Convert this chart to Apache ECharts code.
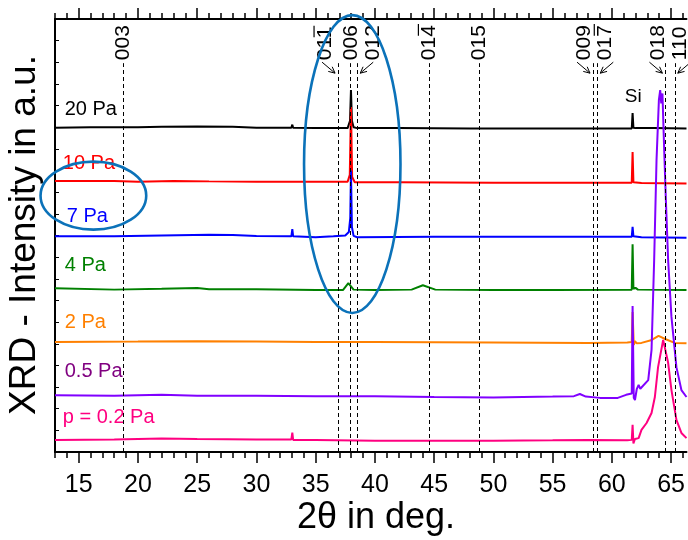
<!DOCTYPE html>
<html>
<head>
<meta charset="utf-8">
<script src="https://cdn.jsdelivr.net/npm/echarts@6/dist/echarts.min.js"></script>
<style>
  html, body { margin: 0; padding: 0; background: #fff; }
  #chart { width: 688px; height: 540px; }
</style>
</head>
<body>
<div id="chart"></div>
<script>
const FONT = '"Liberation Sans", Arial, Helvetica, sans-serif'

// XRD scans: [2theta (deg), intensity (a.u., stacked offset included)]
const scan20Pa = [
  [13, 74.9], [16, 75.0], [20, 75.0], [22, 75.1], [25, 75.2], [28, 75.1], [30, 74.9],
  [32.95, 74.9], [33.03, 75.6], [33.1, 74.9], [35, 74.8], [37.7, 74.8], [37.9, 76.5],
  [37.98, 83.6], [38.06, 76.5], [38.2, 75.0], [38.5, 74.8], [42, 74.8], [48, 74.7],
  [55, 74.7], [61.68, 74.7], [61.75, 78.3], [61.82, 74.9], [62, 74.8], [63.5, 74.8], [66.3, 74.7]
]
const scan10Pa = [
  [13, 62.6], [18, 62.6], [20, 62.4], [23, 62.6], [26, 62.5], [30, 62.4], [35, 62.4],
  [37.7, 62.4], [37.88, 64.0], [37.98, 79.7], [38.08, 63.5], [38.3, 62.3], [42, 62.3],
  [50, 62.2], [55, 62.2], [61.68, 62.2], [61.75, 69.3], [61.82, 62.3], [62.5, 62.1], [66.3, 62.0]
]
const scan7Pa = [
  [13, 49.8], [18, 49.8], [22, 50.0], [26, 50.2], [28, 50.1], [30, 49.9], [32.95, 49.8],
  [33.03, 51.5], [33.1, 49.8], [35, 49.6], [36.5, 49.8], [37.5, 50.0], [37.8, 50.8],
  [37.92, 54.0], [37.98, 65.0], [38.06, 52.0], [38.2, 49.9], [38.5, 49.6], [45, 49.7],
  [55, 49.7], [61.68, 49.7], [61.75, 52.0], [61.82, 49.8], [62.5, 49.6], [66.3, 49.5]
]
const scan4Pa = [
  [13, 37.8], [18, 37.5], [22, 37.7], [25, 37.9], [26, 37.6], [30, 37.6], [35, 37.4],
  [37.3, 37.4], [37.76, 39.0], [38.2, 37.5], [40, 37.4], [43.1, 37.5], [44.05, 38.5],
  [45.1, 37.5], [50, 37.4], [55, 37.4], [61.68, 37.5], [61.75, 48.0], [61.82, 37.7],
  [62, 37.9], [62.2, 37.5], [66.3, 37.4]
]
const scan2Pa = [
  [13, 25.4], [20, 25.5], [25, 25.6], [30, 25.5], [35, 25.4], [40, 25.4], [50, 25.3],
  [58, 25.2], [61.3, 25.3], [61.68, 25.4], [61.75, 32.3], [61.85, 24.7], [61.95, 25.6],
  [62.1, 25.1], [62.5, 25.2], [63.3, 25.8], [63.94, 26.8], [64.5, 26.1], [65.3, 25.2], [66.3, 25.1]
]
const scan05Pa = [
  [13, 13.1], [18, 13.0], [22, 13.2], [25, 13.0], [30, 13.0], [35, 12.9], [40, 12.9],
  [45, 12.7], [50, 12.6], [55, 12.8], [56.8, 12.9], [57.3, 13.4], [57.8, 12.8], [59, 12.5],
  [60.5, 12.5], [61.2, 13.2], [61.68, 13.5], [61.75, 33.7], [61.85, 12.5], [61.95, 12.0],
  [62.1, 14.5], [62.26, 15.5], [62.4, 14.6], [62.5, 14.8], [63.07, 16.6], [63.35, 23.6],
  [63.57, 44.3], [63.77, 67.4], [63.97, 81.3], [64.08, 83.6], [64.17, 80.5], [64.27, 82.8],
  [64.41, 70.4], [64.56, 58.2], [64.75, 44.3], [65.03, 31.2], [65.45, 19.6], [65.87, 14.3], [66.3, 12.7]
]
const scan02Pa = [
  [13, 2.8], [18, 2.9], [22, 3.1], [25, 3.0], [30, 2.9], [32.95, 2.9], [33.03, 4.5],
  [33.1, 2.8], [35, 2.8], [40, 2.6], [45, 2.6], [50, 2.6], [55, 2.7], [58, 2.8], [61.3, 2.7],
  [61.68, 2.8], [61.75, 6.3], [61.82, 2.0], [61.95, 3.0], [62.26, 3.2], [62.5, 5.1],
  [62.93, 6.7], [63.35, 9.0], [63.63, 12.7], [63.9, 19.6], [64.33, 25.9], [64.75, 20.6],
  [65.03, 14.3], [65.45, 7.4], [65.87, 4.4], [66.3, 3.2]
]

const scans = [scan20Pa, scan10Pa, scan7Pa, scan4Pa, scan2Pa, scan05Pa, scan02Pa]
const sampleNames = ['20 Pa', '10 Pa', '7 Pa', '4 Pa', '2 Pa', '0.5 Pa', 'p = 0.2 Pa']
const lineColors = ['#000000', '#ff0000', '#0000ff', '#008000', '#ff8000', '#8000ff', '#ff0080']
const nameColors = ['#000000', '#ff0000', '#0000ff', '#008000', '#ff8000', '#800080', '#ff0080']

// reference reflections (2theta) and their hkl; barred = last index negative
const refPeaks = [18.73, 36.89, 37.96, 38.51, 44.6, 48.8, 58.41, 58.77, 64.52, 65.31]
const refHkl = ['003', '011', '006', '012', '014', '015', '009', '017', '018', '110']
const refBarred = [false, true, false, false, true, false, false, true, false, false]
const refTop = 89.8

const xMajorTicks = [15, 20, 25, 30, 35, 40, 45, 50, 55, 60, 65]
const xMinorTicks = []
for (let t = 13; t <= 66; t++) xMinorTicks.push(t)

// layout of annotations (label anchors in data units, px offsets for hkl labels)
const nameAnchors = [[13.82, 79.2], [13.66, 66.7], [14.0, 54.5], [13.82, 43.0], [13.82, 30.0], [13.82, 18.5], [13.66, 7.9]]
const hklShift = [0, -13, 0, 16, 0, 0, -9, 8, -7, 5]
const hklBaseY = 90.5
const siAnchor = [61.8, 82.0]
const ellipses = [
  { c: [16.24, 59.2], rx: 4.46, ry: 7.85 },
  { c: [38.09, 66.5], rx: 4.07, ry: 34.4 },
]

const axisLine = { show: true, onZero: false, lineStyle: { color: '#000', width: 2 } }
const tickStyle = { color: '#000', width: 1.5 }

const makeX = (position, ticks, len, withLabels, showLine) => ({
  type: 'value',
  position,
  min: 13,
  max: 66.3,
  axisLine: showLine ? axisLine : { show: false },
  axisTick: { show: true, inside: false, length: len, customValues: ticks, lineStyle: tickStyle },
  axisLabel: withLabels
    ? { show: true, customValues: ticks, margin: 21, fontSize: 25, color: '#000', fontFamily: FONT }
    : { show: false },
  splitLine: { show: false },
})

const chart = echarts.init(document.getElementById('chart'))

const option = {
  animation: false,
  backgroundColor: '#fff',
  grid: { left: 55, right: 0, top: 19, bottom: 88 },
  xAxis: [
    makeX('bottom', xMajorTicks, 11, true, true),
    makeX('bottom', xMinorTicks, 6, false, false),
    makeX('top', xMajorTicks, 11, false, true),
    makeX('top', xMinorTicks, 6, false, false),
  ],
  yAxis: {
    type: 'value',
    min: 0,
    max: 100,
    interval: 5,
    axisLine,
    axisTick: { show: true, inside: true, length: 4, lineStyle: { color: '#000', width: 1 } },
    axisLabel: { show: false },
    splitLine: { show: false },
  },
  series: scans.map((d, i) => ({
    type: 'line',
    name: sampleNames[i],
    data: d,
    xAxisIndex: 0,
    showSymbol: false,
    symbol: 'none',
    lineStyle: { color: lineColors[i], width: 2 },
    itemStyle: { color: lineColors[i] },
    markLine: i === 0 ? {
      silent: true,
      symbol: ['none', 'none'],
      label: { show: false },
      lineStyle: { color: '#000', width: 1, type: [4, 3] },
      data: refPeaks.map(p => [{ coord: [p, 0] }, { coord: [p, refTop] }]),
    } : undefined,
  })),
}
chart.setOption(option)

// annotations
const px = (x, y) => chart.convertToPixel({ seriesIndex: 0 }, [x, y])
const measure = document.createElement('canvas').getContext('2d')
measure.font = '21px ' + FONT

const graphic = []

sampleNames.forEach((name, i) => {
  const p = px(nameAnchors[i][0], nameAnchors[i][1])
  graphic.push({
    type: 'text', x: p[0], y: p[1], silent: true,
    style: { text: name, fill: nameColors[i], font: '20px ' + FONT, align: 'left', verticalAlign: 'middle' },
  })
})

refPeaks.forEach((peak, i) => {
  const top = px(peak, refTop)
  const base = px(peak, hklBaseY)
  const ax = base[0] + hklShift[i]
  const ay = base[1]
  graphic.push({
    type: 'text', x: ax, y: ay, rotation: Math.PI / 2, silent: true,
    style: { text: refHkl[i], fill: '#000', font: '21px ' + FONT, align: 'left', verticalAlign: 'middle' },
  })
  if (refBarred[i]) {
    const w = measure.measureText(refHkl[i]).width
    const charW = measure.measureText(refHkl[i].slice(-1)).width
    graphic.push({
      type: 'line', silent: true,
      shape: { x1: ax - 11, y1: ay - w - 1, x2: ax - 11, y2: ay - w + charW - 1 },
      style: { stroke: '#000', lineWidth: 1.2 },
    })
  }
  if (Math.abs(hklShift[i]) > 3) {
    const s = Math.sign(hklShift[i])
    const tail = [top[0] + s * 16, top[1] - 1]
    const tip = [top[0] + s * 3, top[1] + 10]
    const dx = tip[0] - tail[0], dy = tip[1] - tail[1]
    const len = Math.hypot(dx, dy)
    const ux = dx / len, uy = dy / len
    const head = 7, ang = 0.45
    const w1 = [tip[0] - head * (ux * Math.cos(ang) - uy * Math.sin(ang)), tip[1] - head * (uy * Math.cos(ang) + ux * Math.sin(ang))]
    const w2 = [tip[0] - head * (ux * Math.cos(-ang) - uy * Math.sin(-ang)), tip[1] - head * (uy * Math.cos(-ang) + ux * Math.sin(-ang))]
    graphic.push({
      type: 'polyline', silent: true,
      shape: { points: [tail, tip] },
      style: { stroke: '#000', lineWidth: 1, fill: null },
    })
    graphic.push({
      type: 'polyline', silent: true,
      shape: { points: [w1, tip, w2] },
      style: { stroke: '#000', lineWidth: 1, fill: null },
    })
  }
})

const si = px(siAnchor[0], siAnchor[1])
graphic.push({
  type: 'text', x: si[0], y: si[1], silent: true,
  style: { text: 'Si', fill: '#000', font: '19px ' + FONT, align: 'center', verticalAlign: 'middle' },
})

ellipses.forEach(e => {
  const c = px(e.c[0], e.c[1])
  const corner = px(e.c[0] + e.rx, e.c[1] + e.ry)
  graphic.push({
    type: 'ellipse', silent: true,
    shape: { cx: c[0], cy: c[1], rx: Math.abs(corner[0] - c[0]), ry: Math.abs(corner[1] - c[1]) },
    style: { stroke: '#0b72b9', lineWidth: 2.6, fill: null },
    z: 10,
  })
})

// axis titles
graphic.push({
  type: 'text', x: 25, y: 235, rotation: Math.PI / 2, silent: true,
  style: { text: 'XRD - Intensity in a.u.', fill: '#000', font: '37px ' + FONT, align: 'center', verticalAlign: 'middle' },
})
graphic.push({
  type: 'text', x: 376, y: 518, silent: true,
  style: { text: '2\u03b8 in deg.', fill: '#000', font: '36px ' + FONT, align: 'center', verticalAlign: 'middle' },
})

chart.setOption({ graphic })
</script>
</body>
</html>
